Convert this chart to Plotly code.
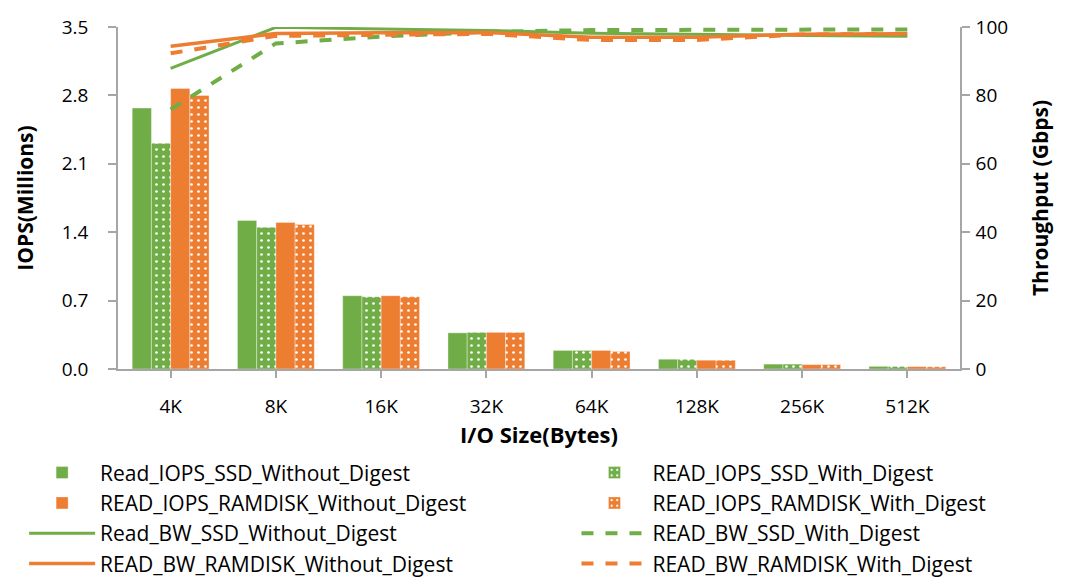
import plotly.graph_objects as go

categories = ["4K", "8K", "16K", "32K", "64K", "128K", "256K", "512K"]

iops_ssd_without = [2.67, 1.52, 0.75, 0.37, 0.19, 0.10, 0.05, 0.027]
iops_ssd_with = [2.31, 1.45, 0.74, 0.375, 0.19, 0.099, 0.05, 0.026]
iops_ram_without = [2.87, 1.50, 0.75, 0.375, 0.19, 0.09, 0.045, 0.024]
iops_ram_with = [2.80, 1.48, 0.74, 0.375, 0.18, 0.09, 0.045, 0.023]

bw_ssd_without = [87.9, 99.9, 99.4, 99.0, 98.2, 97.8, 97.5, 97.3]
bw_ssd_with = [75.9, 95.2, 97.2, 98.6, 99.1, 99.2, 99.3, 99.3]
bw_ram_without = [94.4, 98.1, 98.3, 98.4, 97.0, 97.0, 97.9, 98.0]
bw_ram_with = [92.3, 97.4, 97.7, 98.0, 96.2, 96.2, 97.8, 98.0]

GREEN = "#70AD47"
ORANGE = "#ED7D31"
AXIS = "#A6A6A6"
FONT = "Open Sans"

fig = go.Figure()

def bar(name, vals, color, dotted, legend):
    marker = dict(color=color, line=dict(color="rgba(255,255,255,0.35)", width=1))
    if dotted:
        marker["pattern"] = dict(shape=".", fgcolor="white", bgcolor=color,
                                 size=7, solidity=0.12, fillmode="replace")
    return go.Bar(x=categories, y=vals, name=name, marker=marker, yaxis="y", legend=legend)

def line(name, vals, color, dash, width, legend):
    return go.Scatter(x=categories, y=vals, name=name, mode="lines",
                      line=dict(color=color, width=width, dash=dash), yaxis="y2",
                      legend=legend)

# bars in group order
fig.add_trace(bar("Read_IOPS_SSD_Without_Digest", iops_ssd_without, GREEN, False, "legend"))
fig.add_trace(bar("READ_IOPS_SSD_With_Digest", iops_ssd_with, GREEN, True, "legend2"))
fig.add_trace(bar("READ_IOPS_RAMDISK_Without_Digest", iops_ram_without, ORANGE, False, "legend"))
fig.add_trace(bar("READ_IOPS_RAMDISK_With_Digest", iops_ram_with, ORANGE, True, "legend2"))

fig.add_trace(line("Read_BW_SSD_Without_Digest", bw_ssd_without, GREEN, "solid", 3, "legend"))
fig.add_trace(line("READ_BW_SSD_With_Digest", bw_ssd_with, GREEN, "12px,12px", 4, "legend2"))
fig.add_trace(line("READ_BW_RAMDISK_Without_Digest", bw_ram_without, ORANGE, "solid", 3.5, "legend"))
fig.add_trace(line("READ_BW_RAMDISK_With_Digest", bw_ram_with, ORANGE, "12px,12px", 4, "legend2"))

leg_common = dict(orientation="v", yanchor="top", xanchor="left", traceorder="normal",
                  font=dict(family=FONT, size=21, color="#000000"), itemwidth=66,
                  tracegroupgap=0, bgcolor="rgba(0,0,0,0)", borderwidth=0)

fig.update_layout(
    width=1058, height=569,
    margin=dict(l=110, r=106, t=19, b=208, autoexpand=False),
    paper_bgcolor="white", plot_bgcolor="white",
    font=dict(family=FONT, size=19, color="#000000"),
    barmode="group", bargap=0.27, bargroupgap=0,
    showlegend=True,
    legend=dict(x=-0.1115, y=-0.244, **leg_common),
    legend2=dict(x=0.5445, y=-0.244, **leg_common),
    xaxis=dict(type="category", showgrid=False, showline=True, linecolor=AXIS, linewidth=1.5,
               ticks="outside", ticklen=7, tickcolor=AXIS, tickwidth=1.5,
               ticklabelstandoff=12,
               tickfont=dict(size=19),
               title=dict(text="<b>I/O Size(Bytes)</b>", font=dict(size=22), standoff=10)),
    yaxis=dict(range=[0, 3.5], tickvals=[0, 0.7, 1.4, 2.1, 2.8, 3.5], tickformat=".1f",
               showgrid=False, showline=True, linecolor=AXIS, linewidth=1.5,
               ticks="outside", ticklen=8, tickcolor=AXIS, tickwidth=1.5,
               ticklabelstandoff=16, zeroline=False,
               tickfont=dict(size=19),
               title=dict(text="<b>IOPS(Millions)</b>", font=dict(size=21), standoff=22)),
    yaxis2=dict(range=[0, 100], tickvals=[0, 20, 40, 60, 80, 100], overlaying="y", side="right",
                showgrid=False, showline=True, linecolor=AXIS, linewidth=1.5,
                ticks="outside", ticklen=8, tickcolor=AXIS, tickwidth=1.5,
                ticklabelstandoff=2, zeroline=False,
                tickfont=dict(size=19),
                title=dict(text="<b>Throughput (Gbps)</b>", font=dict(size=21), standoff=26)),
)

fig.write_html("out.html")
